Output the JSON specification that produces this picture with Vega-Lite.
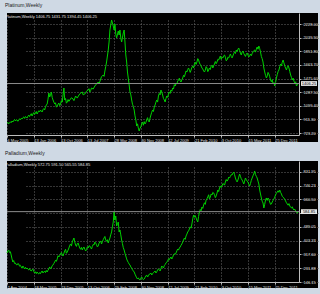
{
  "$schema": "https://vega.github.io/schema/vega-lite/v6.json",
  "background": "#cfd9e4",
  "padding": {"left": 5, "top": 3, "right": 4, "bottom": 6},
  "bounds": "flush",
  "spacing": 19,
  "config": {
    "font": "Liberation Sans",
    "view": {"fill": "#000000", "stroke": null},
    "axis": {
      "grid": true, "gridColor": "#6a6a6a", "gridDash": [1, 2], "gridWidth": 1,
      "domainColor": "#bdbdbd", "domainWidth": 1,
      "tickColor": "#bdbdbd", "tickSize": 2, "tickWidth": 1, "tickCount": 40,
      "labelColor": "#e0e0e0", "labelFontSize": 4, "labelOverlap": false, "labelFlush": false, "labelBound": false,
      "title": null
    },
    "axisX": {"labelAlign": "left", "labelBaseline": "top", "labelPadding": 1, "labelAngle": 0},
    "axisY": {"labelAlign": "left", "labelBaseline": "middle", "labelPadding": 2}
  },
  "datasets": {
    "platinum": [
      {"bar":0,"price":861.3},{"bar":1,"price":870},{"bar":2,"price":850},{"bar":3,"price":862},{"bar":4,"price":878},{"bar":5,"price":866},{"bar":6,"price":888.9},{"bar":7,"price":875},{"bar":8,"price":895},{"bar":9,"price":910},{"bar":10,"price":890},{"bar":11,"price":905},{"bar":12,"price":902.7},{"bar":13,"price":885},{"bar":14,"price":900},{"bar":15,"price":920},{"bar":16,"price":905},{"bar":17,"price":925},{"bar":18,"price":916.5},{"bar":19,"price":935},{"bar":20,"price":945},{"bar":21,"price":925},{"bar":22,"price":950},{"bar":23,"price":940},{"bar":24,"price":930.3},{"bar":25,"price":955},{"bar":26,"price":970},{"bar":27,"price":950},{"bar":28,"price":975},{"bar":29,"price":990},{"bar":30,"price":957.9},{"bar":31,"price":985},{"bar":32,"price":1005},{"bar":33,"price":980},{"bar":34,"price":1000},{"bar":35,"price":1020},{"bar":36,"price":985.5},{"bar":37,"price":1010},{"bar":38,"price":1030},{"bar":39,"price":1015},{"bar":40,"price":1040},{"bar":41,"price":1025},{"bar":42,"price":1013.1},{"bar":43,"price":1045},{"bar":44,"price":1060},{"bar":45,"price":1040.7},{"bar":46,"price":1080},{"bar":47,"price":1110},{"bar":48,"price":1123.6},{"bar":49,"price":1190},{"bar":50,"price":1275.4},{"bar":51,"price":1220.2},{"bar":52,"price":1250},{"bar":53,"price":1289.2},{"bar":54,"price":1215},{"bar":55,"price":1178.8},{"bar":56,"price":1150},{"bar":57,"price":1123.6},{"bar":58,"price":1140},{"bar":59,"price":1080},{"bar":60,"price":1096.0},{"bar":61,"price":1120},{"bar":62,"price":1137.4},{"bar":63,"price":1100},{"bar":64,"price":1123.6},{"bar":65,"price":1170},{"bar":66,"price":1150},{"bar":67,"price":1247.8},{"bar":68,"price":1344.5},{"bar":69,"price":1178.8},{"bar":70,"price":1200},{"bar":71,"price":1135},{"bar":72,"price":1151.2},{"bar":73,"price":1185},{"bar":74,"price":1160},{"bar":75,"price":1178.8},{"bar":77,"price":1210},{"bar":79,"price":1192.6},{"bar":80,"price":1170},{"bar":82,"price":1234.0},{"bar":84,"price":1205},{"bar":86,"price":1247.8},{"bar":88,"price":1275},{"bar":90,"price":1289.2},{"bar":91,"price":1250},{"bar":93,"price":1261.6},{"bar":95,"price":1300},{"bar":97,"price":1316.9},{"bar":98,"price":1335},{"bar":99,"price":1289.2},{"bar":100,"price":1310},{"bar":101,"price":1344.5},{"bar":103,"price":1330},{"bar":105,"price":1372.1},{"bar":107,"price":1400},{"bar":109,"price":1427.3},{"bar":110,"price":1400},{"bar":112,"price":1468.7},{"bar":113,"price":1500},{"bar":115,"price":1524.0},{"bar":116,"price":1505},{"bar":117,"price":1579.2},{"bar":118,"price":1640},{"bar":119,"price":1703.4},{"bar":121,"price":1869.1},{"bar":122,"price":1979.5},{"bar":123,"price":2145.2},{"bar":124,"price":2214.2},{"bar":125,"price":2283.3},{"bar":127,"price":2200.4},{"bar":128,"price":2145.2},{"bar":129,"price":2228.0},{"bar":130,"price":2090.0},{"bar":131,"price":2034.8},{"bar":133,"price":2131.4},{"bar":134,"price":2076.2},{"bar":135,"price":2145.2},{"bar":136,"price":2034.8},{"bar":137,"price":1979.5},{"bar":139,"price":2103.8},{"bar":140,"price":2145.2},{"bar":141,"price":1979.5},{"bar":142,"price":1800.1},{"bar":143,"price":1703.4},{"bar":144,"price":1565.4},{"bar":146,"price":1385.9},{"bar":147,"price":1289.2},{"bar":148,"price":1250},{"bar":149,"price":1178.8},{"bar":150,"price":1120},{"bar":151,"price":1090},{"bar":152,"price":1040.7},{"bar":153,"price":960},{"bar":154,"price":902.7},{"bar":155,"price":819.8},{"bar":156,"price":850},{"bar":157,"price":790},{"bar":158,"price":750.8},{"bar":159,"price":790},{"bar":160,"price":806.0},{"bar":161,"price":850},{"bar":162,"price":875.1},{"bar":163,"price":830},{"bar":164,"price":880},{"bar":165,"price":847.5},{"bar":166,"price":870},{"bar":167,"price":902.7},{"bar":168,"price":935},{"bar":169,"price":890},{"bar":170,"price":875.1},{"bar":171,"price":930},{"bar":172,"price":971.7},{"bar":173,"price":1010},{"bar":174,"price":1040.7},{"bar":175,"price":1020},{"bar":176,"price":1080},{"bar":177,"price":1109.8},{"bar":178,"price":1150},{"bar":179,"price":1178.8},{"bar":180,"price":1150},{"bar":181,"price":1234.0},{"bar":182,"price":1270},{"bar":183,"price":1250},{"bar":184,"price":1316.9},{"bar":185,"price":1290},{"bar":186,"price":1247.8},{"bar":187,"price":1200},{"bar":188,"price":1180},{"bar":189,"price":1151.2},{"bar":190,"price":1200},{"bar":191,"price":1234.0},{"bar":192,"price":1215},{"bar":193,"price":1261.6},{"bar":194,"price":1290},{"bar":195,"price":1270},{"bar":196,"price":1316.9},{"bar":197,"price":1300},{"bar":198,"price":1344.5},{"bar":199,"price":1330},{"bar":200,"price":1390},{"bar":201,"price":1372.1},{"bar":202,"price":1410},{"bar":203,"price":1399.7},{"bar":204,"price":1440},{"bar":205,"price":1454.9},{"bar":206,"price":1480},{"bar":207,"price":1440},{"bar":208,"price":1427.3},{"bar":209,"price":1460},{"bar":210,"price":1482.5},{"bar":211,"price":1520},{"bar":212,"price":1500},{"bar":213,"price":1537.8},{"bar":214,"price":1580},{"bar":215,"price":1565.4},{"bar":216,"price":1600},{"bar":217,"price":1620.6},{"bar":218,"price":1590},{"bar":219,"price":1560},{"bar":220,"price":1593.0},{"bar":221,"price":1630},{"bar":222,"price":1648.2},{"bar":223,"price":1620},{"bar":224,"price":1675.8},{"bar":225,"price":1700},{"bar":226,"price":1670},{"bar":227,"price":1703.4},{"bar":228,"price":1750},{"bar":229,"price":1731.0},{"bar":230,"price":1690},{"bar":231,"price":1670},{"bar":232,"price":1648.2},{"bar":233,"price":1620},{"bar":234,"price":1606.8},{"bar":235,"price":1580},{"bar":236,"price":1565.4},{"bar":237,"price":1590},{"bar":238,"price":1640},{"bar":239,"price":1620.6},{"bar":240,"price":1570},{"bar":241,"price":1593.0},{"bar":242,"price":1620},{"bar":243,"price":1600},{"bar":244,"price":1648.2},{"bar":245,"price":1660},{"bar":246,"price":1620.6},{"bar":247,"price":1650},{"bar":248,"price":1675.8},{"bar":249,"price":1710},{"bar":250,"price":1680},{"bar":251,"price":1703.4},{"bar":252,"price":1740},{"bar":253,"price":1731.0},{"bar":254,"price":1760},{"bar":255,"price":1786.3},{"bar":256,"price":1740},{"bar":257,"price":1770},{"bar":258,"price":1758.7},{"bar":259,"price":1790},{"bar":260,"price":1800.1},{"bar":261,"price":1770},{"bar":262,"price":1720},{"bar":263,"price":1731.0},{"bar":264,"price":1770},{"bar":265,"price":1758.7},{"bar":266,"price":1790},{"bar":267,"price":1813.9},{"bar":268,"price":1780},{"bar":269,"price":1760},{"bar":270,"price":1786.3},{"bar":271,"price":1820},{"bar":272,"price":1841.5},{"bar":273,"price":1820},{"bar":274,"price":1869.1},{"bar":275,"price":1850},{"bar":276,"price":1880},{"bar":277,"price":1896.7},{"bar":278,"price":1860},{"bar":279,"price":1827.7},{"bar":280,"price":1800},{"bar":281,"price":1840},{"bar":282,"price":1855.3},{"bar":283,"price":1820},{"bar":284,"price":1800.1},{"bar":285,"price":1780},{"bar":286,"price":1810},{"bar":287,"price":1827.7},{"bar":288,"price":1800},{"bar":289,"price":1772.5},{"bar":290,"price":1790},{"bar":291,"price":1813.9},{"bar":292,"price":1790},{"bar":293,"price":1820},{"bar":294,"price":1841.5},{"bar":295,"price":1860},{"bar":296,"price":1869.1},{"bar":297,"price":1840},{"bar":298,"price":1880},{"bar":299,"price":1910.5},{"bar":300,"price":1880},{"bar":301,"price":1924.3},{"bar":302,"price":1890},{"bar":303,"price":1841.5},{"bar":304,"price":1780},{"bar":305,"price":1750},{"bar":306,"price":1703.4},{"bar":307,"price":1620},{"bar":308,"price":1565.4},{"bar":309,"price":1520},{"bar":310,"price":1482.5},{"bar":311,"price":1510},{"bar":312,"price":1560},{"bar":313,"price":1537.8},{"bar":314,"price":1500},{"bar":315,"price":1454.9},{"bar":316,"price":1430},{"bar":317,"price":1460},{"bar":318,"price":1399.7},{"bar":319,"price":1420},{"bar":320,"price":1372.1},{"bar":321,"price":1420},{"bar":322,"price":1482.5},{"bar":323,"price":1530},{"bar":324,"price":1570},{"bar":325,"price":1593.0},{"bar":326,"price":1640},{"bar":327,"price":1675.8},{"bar":328,"price":1650},{"bar":329,"price":1700},{"bar":330,"price":1731.0},{"bar":331,"price":1690},{"bar":332,"price":1648.2},{"bar":333,"price":1620},{"bar":334,"price":1593.0},{"bar":335,"price":1630},{"bar":336,"price":1650},{"bar":337,"price":1620.6},{"bar":338,"price":1570},{"bar":339,"price":1524.0},{"bar":340,"price":1490},{"bar":341,"price":1454.9},{"bar":342,"price":1480},{"bar":343,"price":1440},{"bar":344,"price":1413.5},{"bar":345,"price":1430},{"bar":346,"price":1372.1},{"bar":347,"price":1390},{"bar":348,"price":1406.25}
    ],
    "palladium": [
      {"bar":0,"price":327.0},{"bar":1,"price":340},{"bar":2,"price":345.7},{"bar":3,"price":330},{"bar":4,"price":335},{"bar":5,"price":314.5},{"bar":6,"price":290},{"bar":7,"price":270.9},{"bar":8,"price":280},{"bar":9,"price":262},{"bar":10,"price":264.6},{"bar":11,"price":255},{"bar":12,"price":252.2},{"bar":13,"price":262},{"bar":14,"price":258.4},{"bar":15,"price":245},{"bar":16,"price":250},{"bar":17,"price":239.7},{"bar":18,"price":232},{"bar":19,"price":246.0},{"bar":20,"price":236},{"bar":21,"price":227.3},{"bar":22,"price":238},{"bar":23,"price":228},{"bar":24,"price":233.5},{"bar":25,"price":226},{"bar":26,"price":221.0},{"bar":27,"price":230},{"bar":28,"price":218},{"bar":29,"price":214.8},{"bar":30,"price":222},{"bar":31,"price":227.3},{"bar":32,"price":212},{"bar":33,"price":202.3},{"bar":34,"price":210},{"bar":35,"price":198},{"bar":36,"price":208.6},{"bar":37,"price":200},{"bar":38,"price":196.1},{"bar":39,"price":205},{"bar":40,"price":198},{"bar":41,"price":208.6},{"bar":42,"price":215},{"bar":43,"price":202.3},{"bar":44,"price":208},{"bar":45,"price":214.8},{"bar":46,"price":205},{"bar":47,"price":218},{"bar":48,"price":208.6},{"bar":49,"price":220},{"bar":50,"price":227.3},{"bar":51,"price":240},{"bar":52,"price":228},{"bar":53,"price":233.5},{"bar":54,"price":248},{"bar":55,"price":252.2},{"bar":56,"price":262},{"bar":57,"price":270.9},{"bar":58,"price":282},{"bar":59,"price":275},{"bar":60,"price":289.6},{"bar":61,"price":310},{"bar":62,"price":302.0},{"bar":63,"price":312},{"bar":64,"price":320.8},{"bar":65,"price":330},{"bar":66,"price":315},{"bar":67,"price":308.3},{"bar":68,"price":325},{"bar":69,"price":339.5},{"bar":70,"price":350},{"bar":71,"price":325},{"bar":72,"price":333.2},{"bar":73,"price":345},{"bar":74,"price":358.2},{"bar":75,"price":375},{"bar":76,"price":383.1},{"bar":77,"price":370},{"bar":78,"price":395},{"bar":79,"price":408.0},{"bar":80,"price":420.5},{"bar":81,"price":395},{"bar":82,"price":376.9},{"bar":83,"price":368},{"bar":84,"price":385},{"bar":85,"price":389.4},{"bar":86,"price":372},{"bar":87,"price":358.2},{"bar":88,"price":350},{"bar":89,"price":362},{"bar":90,"price":345.7},{"bar":91,"price":358},{"bar":92,"price":364.4},{"bar":93,"price":350},{"bar":94,"price":339.5},{"bar":95,"price":348},{"bar":96,"price":365},{"bar":97,"price":358.2},{"bar":98,"price":372},{"bar":99,"price":370.6},{"bar":100,"price":360},{"bar":101,"price":351.9},{"bar":102,"price":368},{"bar":103,"price":380},{"bar":104,"price":376.9},{"bar":105,"price":395},{"bar":106,"price":389.4},{"bar":107,"price":378},{"bar":108,"price":365},{"bar":109,"price":370.6},{"bar":110,"price":388},{"bar":111,"price":395.6},{"bar":112,"price":402},{"bar":113,"price":383.1},{"bar":114,"price":398},{"bar":115,"price":410},{"bar":116,"price":420.5},{"bar":117,"price":430},{"bar":118,"price":408.0},{"bar":119,"price":400},{"bar":120,"price":410},{"bar":121,"price":389.4},{"bar":122,"price":405},{"bar":123,"price":420.5},{"bar":124,"price":440},{"bar":125,"price":458.0},{"bar":126,"price":490},{"bar":127,"price":520.3},{"bar":128,"price":582.6},{"bar":129,"price":532.7},{"bar":130,"price":557.6},{"bar":131,"price":495.3},{"bar":132,"price":505},{"bar":133,"price":520.3},{"bar":134,"price":458.0},{"bar":135,"price":470.4},{"bar":136,"price":440},{"bar":137,"price":408.0},{"bar":138,"price":385},{"bar":139,"price":360},{"bar":140,"price":345.7},{"bar":141,"price":325},{"bar":142,"price":308.3},{"bar":143,"price":290},{"bar":144,"price":277.1},{"bar":145,"price":268},{"bar":146,"price":258},{"bar":147,"price":252.2},{"bar":148,"price":240},{"bar":149,"price":233.5},{"bar":150,"price":222},{"bar":151,"price":215},{"bar":152,"price":208.6},{"bar":153,"price":195},{"bar":154,"price":183.6},{"bar":155,"price":172},{"bar":156,"price":164.9},{"bar":157,"price":172},{"bar":158,"price":162},{"bar":159,"price":158.7},{"bar":160,"price":170},{"bar":161,"price":177.4},{"bar":162,"price":168},{"bar":163,"price":160},{"bar":164,"price":164.9},{"bar":165,"price":175},{"bar":166,"price":183.6},{"bar":167,"price":190},{"bar":168,"price":177.4},{"bar":169,"price":185},{"bar":170,"price":195},{"bar":171,"price":196.1},{"bar":172,"price":202},{"bar":173,"price":189.8},{"bar":174,"price":198},{"bar":175,"price":205},{"bar":176,"price":208.6},{"bar":177,"price":215},{"bar":178,"price":202.3},{"bar":179,"price":210},{"bar":180,"price":221.0},{"bar":181,"price":228},{"bar":182,"price":222},{"bar":183,"price":214.8},{"bar":184,"price":230},{"bar":185,"price":246.0},{"bar":186,"price":240},{"bar":187,"price":233.5},{"bar":188,"price":248},{"bar":189,"price":255},{"bar":190,"price":264.6},{"bar":191,"price":270},{"bar":192,"price":277.1},{"bar":193,"price":290},{"bar":194,"price":285},{"bar":195,"price":295.8},{"bar":196,"price":302},{"bar":197,"price":289.6},{"bar":198,"price":300},{"bar":199,"price":314.5},{"bar":200,"price":322},{"bar":201,"price":318},{"bar":202,"price":327.0},{"bar":203,"price":340},{"bar":204,"price":351.9},{"bar":205,"price":345},{"bar":206,"price":358},{"bar":207,"price":364.4},{"bar":208,"price":375},{"bar":209,"price":383.1},{"bar":210,"price":395},{"bar":211,"price":408.0},{"bar":212,"price":420},{"bar":213,"price":412},{"bar":214,"price":433.0},{"bar":215,"price":445},{"bar":216,"price":458.0},{"bar":217,"price":465},{"bar":218,"price":476.6},{"bar":219,"price":490},{"bar":220,"price":482},{"bar":221,"price":507.8},{"bar":222,"price":540},{"bar":223,"price":563.9},{"bar":224,"price":550},{"bar":225,"price":560},{"bar":226,"price":545.2},{"bar":227,"price":530},{"bar":228,"price":520.3},{"bar":229,"price":555},{"bar":230,"price":582.6},{"bar":231,"price":598},{"bar":232,"price":590},{"bar":233,"price":613.8},{"bar":234,"price":605},{"bar":235,"price":626.2},{"bar":236,"price":640},{"bar":237,"price":630},{"bar":238,"price":657.4},{"bar":239,"price":665},{"bar":240,"price":676.1},{"bar":241,"price":690},{"bar":242,"price":663.6},{"bar":243,"price":675},{"bar":244,"price":695},{"bar":245,"price":688.6},{"bar":246,"price":705},{"bar":247,"price":701.0},{"bar":248,"price":690},{"bar":249,"price":672},{"bar":250,"price":682.4},{"bar":251,"price":700},{"bar":252,"price":719.7},{"bar":253,"price":710},{"bar":254,"price":732.2},{"bar":255,"price":745},{"bar":256,"price":735},{"bar":257,"price":744.7},{"bar":258,"price":760},{"bar":259,"price":757.1},{"bar":260,"price":750},{"bar":261,"price":769.6},{"bar":262,"price":785},{"bar":263,"price":775},{"bar":264,"price":782.1},{"bar":265,"price":800},{"bar":266,"price":794.5},{"bar":267,"price":805},{"bar":268,"price":815},{"bar":269,"price":813.2},{"bar":270,"price":825},{"bar":271,"price":831.95},{"bar":272,"price":815},{"bar":273,"price":794.5},{"bar":274,"price":780},{"bar":275,"price":770},{"bar":276,"price":782.1},{"bar":277,"price":800},{"bar":278,"price":819.5},{"bar":279,"price":805},{"bar":280,"price":790},{"bar":281,"price":782.1},{"bar":282,"price":770},{"bar":283,"price":757.1},{"bar":284,"price":775},{"bar":285,"price":794.5},{"bar":286,"price":785},{"bar":287,"price":775},{"bar":288,"price":769.6},{"bar":289,"price":755},{"bar":290,"price":744.7},{"bar":291,"price":760},{"bar":292,"price":780},{"bar":293,"price":794.5},{"bar":294,"price":808},{"bar":295,"price":819.5},{"bar":296,"price":838.2},{"bar":297,"price":815},{"bar":298,"price":805},{"bar":299,"price":794.5},{"bar":300,"price":775},{"bar":301,"price":757.1},{"bar":302,"price":720},{"bar":303,"price":694.8},{"bar":304,"price":670},{"bar":305,"price":650},{"bar":306,"price":638.7},{"bar":307,"price":607.5},{"bar":308,"price":630},{"bar":309,"price":657.4},{"bar":310,"price":670},{"bar":311,"price":655},{"bar":312,"price":669.9},{"bar":313,"price":660},{"bar":314,"price":644.9},{"bar":315,"price":630},{"bar":316,"price":632.5},{"bar":317,"price":645},{"bar":318,"price":655},{"bar":319,"price":663.6},{"bar":320,"price":675},{"bar":321,"price":688.6},{"bar":322,"price":700},{"bar":323,"price":707.3},{"bar":324,"price":715},{"bar":325,"price":705},{"bar":326,"price":719.7},{"bar":327,"price":705},{"bar":328,"price":694.8},{"bar":329,"price":680},{"bar":330,"price":675},{"bar":331,"price":669.9},{"bar":332,"price":660},{"bar":333,"price":651.2},{"bar":334,"price":640},{"bar":335,"price":632.5},{"bar":336,"price":625},{"bar":337,"price":635},{"bar":338,"price":620.0},{"bar":339,"price":612},{"bar":340,"price":607.5},{"bar":341,"price":615},{"bar":342,"price":601.3},{"bar":343,"price":595},{"bar":344,"price":600},{"bar":345,"price":588.8},{"bar":346,"price":580},{"bar":347,"price":576.4},{"bar":348,"price":584.85}
    ],
    "ptbid": [{"bid": 1406.25}],
    "pdbid": [{"bid": 584.85}]
  },
  "vconcat": [
    {
      "width": 311,
      "height": 129,
      "title": {
        "text": "\u00a0\u00a0\u00a0\u00a0\u00a0\u00a0Platinum,Weekly",
        "subtitle": "\u00a0\u00a0Platinum,Weekly  1406.75 1431.75 1394.45 1406.25",
        "anchor": "start", "orient": "top", "offset": -6,
        "fontSize": 5, "fontWeight": "normal", "color": "#202020",
        "subtitleFontSize": 4, "subtitleColor": "#e6e6e6", "subtitlePadding": 7
      },
      "layer": [
        {
          "data": {"name": "platinum"},
          "mark": {"type": "line", "color": "#00d200", "strokeWidth": 1},
          "encoding": {
            "x": {"field": "bar", "type": "quantitative", "title": null,
              "scale": {"domain": [0, 349], "range": [0, 292], "nice": false, "zero": false},
              "axis": {"orient": "bottom", "offset": -7, "tickCount": 40, "values": [0, 32, 64, 96, 128, 160, 192, 224, 256, 288, 320],
                "labelExpr": "['6 May 2005','13 Jan 2006','13 Oct 2006','13 Jul 2007','28 Mar 2008','30 Nov 2008','12 Jul 2009','21 Feb 2010','3 Oct 2010','15 May 2011','25 Dec 2011'][round(datum.value/32)]"}},
            "y": {"field": "price", "type": "quantitative", "title": null,
              "scale": {"domain": [695.6, 2379.9], "range": [122, 0], "nice": false, "zero": false},
              "axis": {"orient": "right", "offset": -19, "format": ".2f", "tickCount": 40,
                "values": [723.2, 911.3, 1099.4, 1287.5, 1475.6, 1663.7, 1851.8, 2039.9, 2228.0]}}
          }
        },
        {
          "data": {"name": "ptbid"},
          "mark": {"type": "rule", "color": "#8c8c8c", "strokeWidth": 1},
          "encoding": {
            "x": {"datum": 0, "type": "quantitative", "title": null},
            "x2": {"datum": 349},
            "y": {"field": "bid", "type": "quantitative", "title": null}
          }
        },
        {
          "data": {"name": "ptbid"},
          "mark": {"type": "point", "shape": "M-1,-0.3H1V0.3H-1Z", "filled": true, "color": "#e6e6e6", "opacity": 1, "size": 256, "xOffset": 10, "strokeWidth": 0},
          "encoding": {
            "x": {"datum": 349, "type": "quantitative", "title": null},
            "y": {"field": "bid", "type": "quantitative", "title": null}
          }
        },
        {
          "data": {"name": "ptbid"},
          "mark": {"type": "text", "fontSize": 4, "color": "#000000", "xOffset": 10},
          "encoding": {
            "x": {"datum": 349, "type": "quantitative", "title": null},
            "y": {"field": "bid", "type": "quantitative", "title": null},
            "text": {"field": "bid", "type": "quantitative", "format": ".2f"}
          }
        }
      ]
    },
    {
      "width": 311,
      "height": 127,
      "title": {
        "text": "\u00a0\u00a0\u00a0\u00a0\u00a0\u00a0Palladium,Weekly",
        "subtitle": "\u00a0\u00a0Palladium,Weekly  572.75 591.50 565.55 584.85",
        "anchor": "start", "orient": "top", "offset": -6,
        "fontSize": 5, "fontWeight": "normal", "color": "#202020",
        "subtitleFontSize": 4, "subtitleColor": "#e6e6e6", "subtitlePadding": 7
      },
      "layer": [
        {
          "data": {"name": "palladium"},
          "mark": {"type": "line", "color": "#00d200", "strokeWidth": 1},
          "encoding": {
            "x": {"field": "bar", "type": "quantitative", "title": null,
              "scale": {"domain": [0, 349], "range": [0, 292], "nice": false, "zero": false},
              "axis": {"orient": "bottom", "offset": -6, "tickCount": 40, "values": [0, 32, 64, 96, 128, 160, 192, 224, 256, 288, 320],
                "labelExpr": "['2 Apr 2004','18 Mar 2005','23 Dec 2005','13 Oct 2006','29 Feb 2008','30 Nov 2008','12 Jul 2009','21 Feb 2010','3 Oct 2010','15 May 2011','25 Dec 2011'][round(datum.value/32)]"}},
            "y": {"field": "price", "type": "quantitative", "title": null,
              "scale": {"domain": [146.15, 900.5], "range": [121, 0], "nice": false, "zero": false},
              "axis": {"orient": "right", "offset": -19, "tickCount": 40,
                "values": [146.15, 231.88, 317.6, 403.33, 489.05, 574.78, 660.5, 746.23, 831.95],
                "labelExpr": "datum.value == 574.78 ? '' : format(datum.value, '.2f')"}}
          }
        },
        {
          "data": {"name": "pdbid"},
          "mark": {"type": "rule", "color": "#8c8c8c", "strokeWidth": 1},
          "encoding": {
            "x": {"datum": 0, "type": "quantitative", "title": null},
            "x2": {"datum": 349},
            "y": {"field": "bid", "type": "quantitative", "title": null}
          }
        },
        {
          "data": {"name": "pdbid"},
          "mark": {"type": "point", "shape": "M-1,-0.3H1V0.3H-1Z", "filled": true, "color": "#e6e6e6", "opacity": 1, "size": 256, "xOffset": 10, "strokeWidth": 0},
          "encoding": {
            "x": {"datum": 349, "type": "quantitative", "title": null},
            "y": {"field": "bid", "type": "quantitative", "title": null}
          }
        },
        {
          "data": {"name": "pdbid"},
          "mark": {"type": "text", "fontSize": 4, "color": "#000000", "xOffset": 10},
          "encoding": {
            "x": {"datum": 349, "type": "quantitative", "title": null},
            "y": {"field": "bid", "type": "quantitative", "title": null},
            "text": {"field": "bid", "type": "quantitative", "format": ".2f"}
          }
        }
      ]
    }
  ]
}
